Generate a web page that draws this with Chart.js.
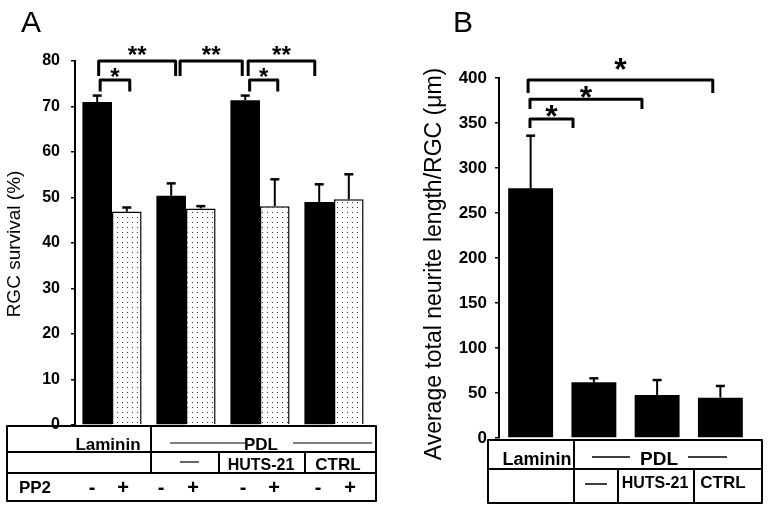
<!DOCTYPE html>
<html>
<head>
<meta charset="utf-8">
<script src="https://cdn.jsdelivr.net/npm/chart.js@4/dist/chart.umd.min.js"></script>
<style>
  body { margin: 0; background: #fff; }
  canvas { position: absolute; top: 0; }
  #chartA { left: 0; }
  #chartB { left: 385px; }
</style>
</head>
<body>
<canvas id="chartA" width="385" height="510"></canvas>
<canvas id="chartB" width="384" height="510"></canvas>
<script>
// Panel A - RGC survival (%), without / with PP2
const groupsA = ['Laminin', 'PDL', 'PDL HUTS-21', 'PDL CTRL'];
const survivalNoPP2 = [71.0, 50.4, 71.4, 49.0];
const survivalNoPP2Err = [1.4, 2.7, 1.0, 3.9];
const survivalPP2 = [46.9, 47.6, 48.1, 49.6];
const survivalPP2Err = [0.9, 0.5, 5.9, 5.5];
const ticksA = [0, 10, 20, 30, 40, 50, 60, 70, 80];

// Panel B - average total neurite length / RGC (um)
const groupsB = ['Laminin', 'PDL', 'PDL HUTS-21', 'PDL CTRL'];
const neuriteLength = [277.4, 61.9, 47.8, 44.8];
const neuriteErr = [58.5, 4.4, 16.6, 13.0];
const ticksB = [0, 50, 100, 150, 200, 250, 300, 350, 400];

// significance brackets (x in category units, y in data units)
const bracketsA = [
  { from: -0.16, to: 0.24, top: 75.8, leg: 73.3, label: '*', at: 74.7 },
  { from: -0.18, to: 0.86, top: 80.0, leg: 76.7, label: '**', at: 79.6 },
  { from: 0.92, to: 1.76, top: 80.0, leg: 76.7, label: '**', at: 79.6 },
  { from: 1.86, to: 2.24, top: 75.8, leg: 73.3, label: '*', at: 74.7 },
  { from: 1.84, to: 2.74, top: 80.0, leg: 76.7, label: '**', at: 79.6 }
];
const bracketsB = [
  { from: -0.04, to: 2.88, top: 397.8, leg: 383.3, label: '*', at: 397.8 },
  { from: -0.01, to: 1.76, top: 376.3, leg: 365.6, label: '*', at: 366.7 },
  { from: -0.01, to: 0.67, top: 354.4, leg: 344.4, label: '*', at: 345.6 }
];

const FONT = '"Liberation Sans", Arial, sans-serif';

function dotPattern() {
  const c = document.createElement('canvas');
  c.width = 5; c.height = 5;
  const g = c.getContext('2d');
  g.fillStyle = '#fff';
  g.fillRect(0, 0, 5, 5);
  g.fillStyle = '#333';
  g.fillRect(2, 2, 1, 1);
  return g.createPattern(c, 'repeat');
}

function line(ctx, x1, y1, x2, y2, w) {
  ctx.lineWidth = w;
  ctx.beginPath();
  ctx.moveTo(x1, y1);
  ctx.lineTo(x2, y2);
  ctx.stroke();
}

function text(ctx, s, x, y, size, bold) {
  ctx.font = (bold ? 'bold ' : '') + size + 'px ' + FONT;
  ctx.textAlign = 'center';
  ctx.textBaseline = 'alphabetic';
  ctx.fillText(s, x, y);
}

function makePanel(cfg) {
  return {
    id: 'panel',
    afterDatasetsDraw(chart) {
      const ctx = chart.ctx, y = chart.scales.y;
      ctx.save();
      ctx.strokeStyle = '#000';
      cfg.errors.forEach((errs, ds) => {
        const vals = chart.data.datasets[ds].data;
        chart.getDatasetMeta(ds).data.forEach((bar, i) => {
          const top = y.getPixelForValue(vals[i] + errs[i]);
          line(ctx, bar.x, bar.y, bar.x, top, 2);
          line(ctx, bar.x - 4.5, top, bar.x + 4.5, top, 2.5);
        });
      });
      ctx.restore();
    },
    afterDraw(chart) {
      const ctx = chart.ctx, x = chart.scales.x, y = chart.scales.y;
      ctx.save();
      ctx.strokeStyle = '#000';
      ctx.fillStyle = '#000';
      // brackets
      ctx.lineJoin = 'round';
      cfg.brackets.forEach(b => {
        const x1 = x.getPixelForValue(b.from), x2 = x.getPixelForValue(b.to);
        const yt = y.getPixelForValue(b.top), yl = y.getPixelForValue(b.leg);
        ctx.lineWidth = 3;
        ctx.beginPath();
        ctx.moveTo(x1, yl);
        ctx.lineTo(x1, yt);
        ctx.lineTo(x2, yt);
        ctx.lineTo(x2, yl);
        ctx.stroke();
        text(ctx, b.label, (x1 + x2) / 2, y.getPixelForValue(b.at), cfg.starSize, true);
      });
      // axis title
      ctx.save();
      ctx.translate(cfg.titleX, cfg.titleY);
      ctx.rotate(-Math.PI / 2);
      ctx.font = cfg.titleSize + 'px ' + FONT;
      ctx.textAlign = 'center';
      ctx.textBaseline = 'middle';
      ctx.fillText(cfg.title, 0, 0);
      ctx.restore();
      // panel letter
      ctx.font = '30px ' + FONT;
      ctx.textAlign = 'left';
      ctx.textBaseline = 'alphabetic';
      ctx.fillText(cfg.letter, cfg.letterX, 32);
      // table under the axis
      cfg.table(ctx);
      ctx.restore();
    }
  };
}

function tableA(ctx) {
  ctx.lineWidth = 2;
  ctx.strokeRect(7, 426, 369, 75);
  line(ctx, 7, 452, 376, 452, 2);
  line(ctx, 7, 473, 376, 473, 2);
  line(ctx, 151, 426, 151, 473, 2);
  line(ctx, 219, 452, 219, 473, 2);
  line(ctx, 305, 452, 305, 473, 2);
  text(ctx, 'Laminin', 108, 450, 17, true);
  text(ctx, 'PDL', 261, 450, 17, true);
  line(ctx, 170, 443, 245, 443, 1.2);
  line(ctx, 293, 443, 372, 443, 1.2);
  line(ctx, 180, 462, 199, 462, 1.2);
  text(ctx, 'HUTS-21', 261, 470, 16, true);
  text(ctx, 'CTRL', 338, 470, 17, true);
  text(ctx, 'PP2', 35, 493, 17, true);
  const signX = [92, 123, 161, 193, 243, 274, 318, 350];
  signX.forEach((sx, i) => text(ctx, i % 2 ? '+' : '-', sx, 494, 20, true));
}

function tableB(ctx) {
  ctx.lineWidth = 2;
  ctx.strokeRect(103, 440, 274, 63);
  line(ctx, 103, 469, 377, 469, 2);
  line(ctx, 189, 440, 189, 503, 2);
  line(ctx, 233, 469, 233, 503, 2);
  line(ctx, 309, 469, 309, 503, 2);
  text(ctx, 'Laminin', 152, 465, 18, true);
  text(ctx, 'PDL', 274, 465, 19, true);
  line(ctx, 207, 457, 245, 457, 1.5);
  line(ctx, 303, 457, 342, 457, 1.5);
  line(ctx, 200, 484, 222, 484, 1.5);
  text(ctx, 'HUTS-21', 270, 488, 16, true);
  text(ctx, 'CTRL', 338, 488, 17, true);
}

function yAxis(ticks, max, width, fontSize, pad) {
  return {
    min: 0,
    max: max,
    afterFit: s => { s.width = width; },
    afterBuildTicks: s => { s.ticks = ticks.map(v => ({ value: v })); },
    ticks: { color: '#000', padding: pad, font: { family: FONT, size: fontSize, weight: 'bold' } },
    grid: { drawOnChartArea: false, drawTicks: true, tickLength: 4, color: '#000', lineWidth: 1.5 },
    border: { display: true, color: '#000', width: 2 }
  };
}

const common = {
  responsive: false,
  animation: false,
  plugins: { legend: { display: false }, tooltip: { enabled: false } }
};

new Chart(document.getElementById('chartA'), {
  type: 'bar',
  data: {
    labels: groupsA,
    datasets: [
      { label: 'PP2 -', data: survivalNoPP2, backgroundColor: '#000', borderWidth: 0,
        categoryPercentage: 0.8, barPercentage: 1 },
      { label: 'PP2 +', data: survivalPP2, backgroundColor: dotPattern(), borderColor: '#000', borderWidth: 1.5,
        categoryPercentage: 0.8, barPercentage: 1 }
    ]
  },
  options: Object.assign({}, common, {
    layout: { padding: { left: 0, right: 14, top: 61, bottom: 85 } },
    scales: { x: { display: false }, y: yAxis(ticksA, 80, 75, 16, 11) }
  }),
  plugins: [makePanel({
    errors: [survivalNoPP2Err, survivalPP2Err],
    brackets: bracketsA, starSize: 24,
    title: 'RGC survival (%)', titleX: 15, titleY: 244, titleSize: 19,
    letter: 'A', letterX: 21, table: tableA
  })]
});

new Chart(document.getElementById('chartB'), {
  type: 'bar',
  data: {
    labels: groupsB,
    datasets: [
      { label: 'Neurite length', data: neuriteLength, backgroundColor: '#000', borderWidth: 0,
        categoryPercentage: 0.71, barPercentage: 1 }
    ]
  },
  options: Object.assign({}, common, {
    layout: { padding: { left: 0, right: 17, top: 78, bottom: 72 } },
    scales: { x: { display: false }, y: yAxis(ticksB, 400, 114, 17, 8) }
  }),
  plugins: [makePanel({
    errors: [neuriteErr],
    brackets: bracketsB, starSize: 32,
    title: 'Average total neurite length/RGC (\u03bcm)', titleX: 50, titleY: 264, titleSize: 23,
    letter: 'B', letterX: 68, table: tableB
  })]
});
</script>
</body>
</html>
